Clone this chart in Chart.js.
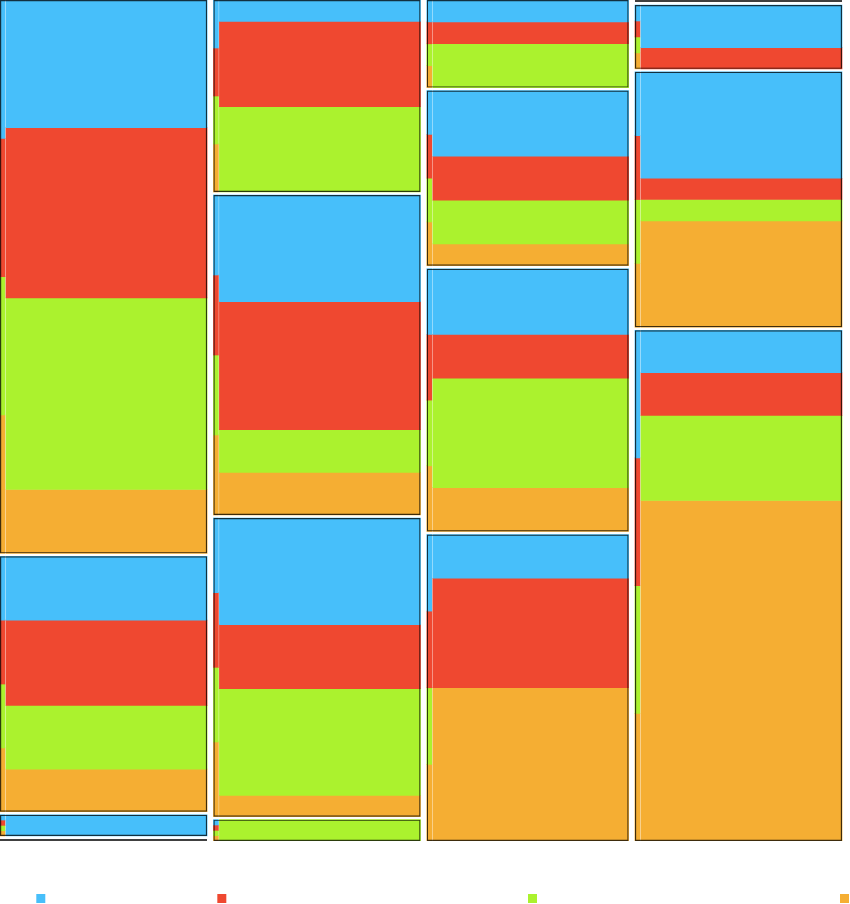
<!DOCTYPE html>
<html>
<head>
<meta charset="utf-8">
<title>Mosaic</title>
<script src="https://cdn.jsdelivr.net/npm/chart.js@4.4.1/dist/chart.umd.min.js"></script>
<style>
  html, body { margin: 0; padding: 0; background: #fff; }
  #chart { display: block; }
</style>
</head>
<body>
<canvas id="chart" width="850" height="904"></canvas>
<script>
// one entry per column, each column holds four boxes (top to bottom)
const columns = ['A1', 'A2', 'A3', 'A4'];
const boxes = ['B1', 'B2', 'B3', 'B4'];

// counts per colour: [column][box]
const blueValues = [[6, 3, 1, 0], [1, 5, 5, 0], [1, 3, 3, 2], [0, 2, 5, 2]];
const redValues = [[8, 4, 0, 0], [4, 6, 3, 0], [1, 2, 2, 5], [0, 1, 1, 2]];
const greenValues = [[9, 3, 0, 0], [4, 2, 5, 1], [2, 2, 5, 0], [0, 0, 1, 4]];
const orangeValues = [[3, 2, 0, 0], [0, 2, 1, 0], [0, 1, 2, 7], [0, 0, 5, 16]];

const seriesValues = [blueValues, redValues, greenValues, orangeValues];
const colors = ['#47bffa', '#ef4830', '#abf22e', '#f5ae33'];
const frameColor = 'rgba(0, 0, 0, 0.75)';

// layout
const GAP_X = 1.19;        // between columns, in count units
const RIGHT_PAD = 1.5;
const GAP_Y = 3 / 841;     // between boxes, share of column height
const EMPTY_Y = 2 / 841;   // height kept for an empty box
const STRIP_PX = 5;
const STRIP_GAP_PX = 1;
const LEGEND_FONT = { size: 2, family: 'DejaVu Sans' };
const legendTextPx = [171, 301, 302, 0];

const boxTotals = columns.map((_, c) =>
  boxes.map((_, b) => seriesValues.reduce((s, v) => s + v[c][b], 0)));
const colTotals = boxTotals.map(bt => bt.reduce((a, b) => a + b, 0));

let xCursor = 0;
const colSpans = colTotals.map(t => {
  const span = [xCursor, xCursor + t];
  xCursor += t + GAP_X;
  return span;
});
const xMax = xCursor - GAP_X + RIGHT_PAD;

const boxSpans = boxTotals.map((bt, c) => {
  const empties = bt.filter(v => v === 0).length;
  const free = 1 - GAP_Y * (bt.length - 1) - EMPTY_Y * empties;
  let y = 0;
  return bt.map(v => {
    const h = v === 0 ? EMPTY_Y : v / colTotals[c] * free;
    const span = [y, y + h];
    y += h + GAP_Y;
    return span;
  });
});

const datasets = [];
columns.forEach((name, c) => {
  const mid = (colSpans[c][0] + colSpans[c][1]) / 2;

  seriesValues.forEach((values, k) => {
    const data = [];
    values[c].forEach((v, b) => {
      if (!v) return;
      const [y0, y1] = boxSpans[c][b];
      const per = (y1 - y0) / boxTotals[c][b];
      const before = seriesValues.slice(0, k).reduce((s, vals) => s + vals[c][b], 0);
      data.push({ x: mid, y: [y0 + before * per, y0 + (before + v) * per] });
    });
    datasets.push({ role: 'main', col: c, data, backgroundColor: colors[k], borderWidth: 0, order: 2 });
  });

  // thin strip at the left of each box, one quarter per colour
  seriesValues.forEach((values, k) => {
    const data = [];
    boxTotals[c].forEach((t, b) => {
      if (!t) return;
      const [y0, y1] = boxSpans[c][b];
      const q = (y1 - y0) / seriesValues.length;
      data.push({ x: mid, y: [y0 + k * q, y0 + (k + 1) * q] });
    });
    datasets.push({ role: 'strip', col: c, data, backgroundColor: colors[k], borderWidth: 0, order: 2 });
  });

  datasets.push({
    role: 'frame', col: c,
    data: boxSpans[c].map(s => ({ x: mid, y: [s[0], s[1]] })),
    backgroundColor: 'rgba(0, 0, 0, 0)',
    borderColor: frameColor,
    borderWidth: 1.2,
    borderSkipped: false,
    inflateAmount: 0,
    order: 0
  });
});

const chart = new Chart(document.getElementById('chart'), {
  type: 'bar',
  data: { datasets },
  options: {
    responsive: false,
    animation: false,
    events: [],
    layout: { padding: { bottom: -9 } },
    datasets: { bar: { grouped: false, barThickness: 1 } },
    scales: {
      x: {
        type: 'linear', min: 0, max: xMax, offset: false,
        grid: { display: false, offset: false }, border: { display: false }, ticks: { display: false },
        afterFit(scale) { scale.height = 53; }
      },
      y: { type: 'linear', min: 0, max: 1, reverse: true, display: false }
    },
    plugins: {
      tooltip: { enabled: false },
      legend: {
        position: 'bottom',
        align: 'end',
        labels: {
          boxWidth: 9,
          boxHeight: 9,
          padding: 0,
          font: LEGEND_FONT,
          generateLabels(ch) {
            const ctx = ch.ctx;
            ctx.save();
            ctx.font = LEGEND_FONT.size + 'px ' + LEGEND_FONT.family;
            const space = ctx.measureText(' ').width || 1;
            ctx.restore();
            return colors.map((color, k) => ({
              text: ' '.repeat(Math.round(legendTextPx[k] / space)),
              fillStyle: color,
              strokeStyle: color,
              lineWidth: 0,
              hidden: false,
              datasetIndex: k
            }));
          }
        }
      }
    }
  }
});

// column widths follow the counts, so place bars in pixels once the x scale is known
function placeBars(ch) {
  const xs = ch.scales.x;
  ch.data.datasets.forEach(ds => {
    const left = xs.getPixelForValue(colSpans[ds.col][0]);
    const right = xs.getPixelForValue(colSpans[ds.col][1]);
    let a = left, b = right;
    if (ds.role === 'strip') b = left + STRIP_PX;
    if (ds.role === 'main') a = left + STRIP_PX + STRIP_GAP_PX;
    const center = xs.getValueForPixel((a + b) / 2);
    ds.barThickness = b - a;
    ds.data.forEach(p => { p.x = center; });
  });
  ch.update('none');
}
placeBars(chart);
</script>
</body>
</html>
